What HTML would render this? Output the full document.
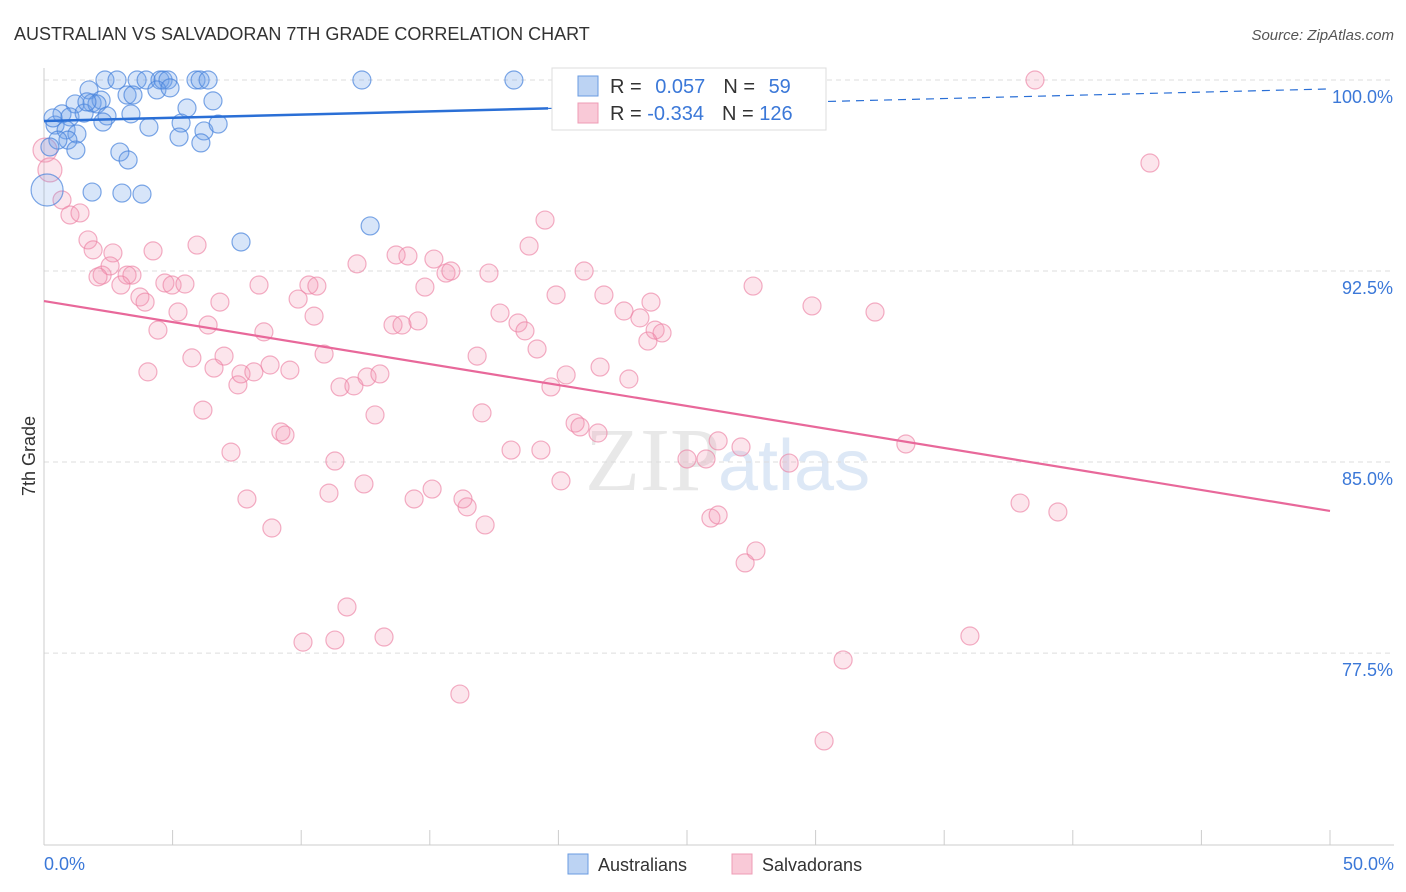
<!DOCTYPE html>
<html><head><meta charset="utf-8"><style>
body{margin:0;background:#fff;font-family:"Liberation Sans",sans-serif;}
svg{display:block}
</style></head><body>
<svg width="1406" height="892" id="chart" xmlns="http://www.w3.org/2000/svg">
<text x="14" y="40" font-size="18" fill="#333">AUSTRALIAN VS SALVADORAN 7TH GRADE CORRELATION CHART</text>
<text x="1394" y="40" font-size="15" fill="#555" font-style="italic" text-anchor="end">Source: ZipAtlas.com</text>
<text x="720" y="490" font-size="90" fill="#e8e8e8" text-anchor="end" font-family="Liberation Serif">ZIP</text>
<text x="718" y="490" font-size="72" fill="#dde8f6">atlas</text>
<g id="grid"></g>
<line x1="44" y1="68" x2="44" y2="845" stroke="#ccc"/>
<line x1="44" y1="845" x2="1394" y2="845" stroke="#ccc"/>
<g id="ticks"></g>
<text x="35" y="456" font-size="18" fill="#333" transform="rotate(-90 35 456)" text-anchor="middle">7th Grade</text>
<text x="44" y="870" font-size="18" fill="#3b78d8">0.0%</text>
<text x="1394" y="870" font-size="18" fill="#3b78d8" text-anchor="end">50.0%</text>
<g id="pts"></g>
<g id="lines"></g>
<g>
<rect x="552" y="68" width="274" height="62" fill="#fff" stroke="#ddd"/>
<rect x="578" y="76" width="20" height="20" fill="#bcd3f3" stroke="#6a9be0"/>
<rect x="578" y="103" width="20" height="20" fill="#f9c9d7" stroke="#ee9cb5"/>
<text x="610" y="93" font-size="20" fill="#333">R = <tspan fill="#3b78d8" dx="8">0.057</tspan><tspan dx="18">N = </tspan><tspan fill="#3b78d8" dx="8">59</tspan></text>
<text x="610" y="120" font-size="20" fill="#333">R = <tspan fill="#3b78d8">-0.334</tspan><tspan dx="18">N = </tspan><tspan fill="#3b78d8">126</tspan></text>
</g>
<rect x="568" y="854" width="20" height="20" fill="#bcd3f3" stroke="#6a9be0"/>
<text x="598" y="871" font-size="18" fill="#333">Australians</text>
<rect x="732" y="854" width="20" height="20" fill="#f9c9d7" stroke="#ee9cb5"/>
<text x="762" y="871" font-size="18" fill="#333">Salvadorans</text>
</svg>
<script>
const yTicks=[100,92.5,85,77.5];
const yTickLabels=["100.0%","92.5%","85.0%","77.5%"];
const xTicks=[0,5,10,15,20,25,30,35,40,45,50];
const auX=[2.37,2.84,3.62,3.97,4.51,4.63,4.82,5.91,6.07,6.38,12.36,18.27,1.75,3.23,4.39,4.90,1.21,1.87,2.22,3.46,6.57,5.56,0.70,1.01,1.56,2.06,2.45,3.38,0.43,0.86,1.28,0.93,0.54,2.29,4.08,5.33,6.22,6.77,5.25,6.10,2.95,1.24,0.23,3.27,1.87,3.03,3.81,7.66,12.68,0.12,0.35,1.67];
const auY=[100,100,100,100,100,100,100,100,100,100,100,100,99.61,99.41,99.61,99.69,99.06,99.10,99.21,99.41,99.18,98.90,98.67,98.55,98.70,99.06,98.59,98.67,98.23,98.04,97.88,97.64,97.64,98.35,98.15,98.31,98.00,98.27,97.76,97.53,97.17,97.25,97.37,96.86,95.60,95.56,95.52,93.64,94.27,95.68,98.51,99.14];
const svX=[38.53,43.00,0.04,0.23,0.70,1.01,1.40,1.71,1.91,2.68,4.24,5.95,2.26,2.57,3.23,3.42,2.10,2.99,3.73,3.93,4.70,4.98,5.48,5.21,4.43,6.84,6.38,8.36,9.88,10.30,10.61,8.55,4.04,5.75,7.00,6.61,7.54,7.66,8.16,8.79,9.56,6.18,7.27,7.89,8.86,9.21,9.37,10.50,10.89,11.31,11.08,11.51,12.05,12.56,13.06,12.17,12.44,12.87,13.57,13.92,14.54,13.69,14.15,14.81,15.16,15.63,15.82,17.30,16.84,17.73,18.43,18.70,19.17,18.86,19.48,21.00,19.91,21.77,22.55,23.17,23.60,23.76,24.03,23.48,19.71,20.30,21.62,22.74,20.65,20.84,21.54,18.16,19.32,17.03,16.45,17.15,16.29,15.09,14.39,20.10,11.31,11.78,13.22,10.07,16.17,25.00,25.74,26.21,27.10,25.93,26.21,27.26,27.68,28.97,27.57,29.86,32.31,33.51,37.95,39.42,36.00,31.07,30.33];
const svY=[100,96.74,97.25,96.47,95.29,94.70,94.78,93.72,93.33,93.21,93.29,93.52,92.34,92.70,92.34,92.34,92.27,91.95,91.48,91.28,92.03,91.95,91.99,90.89,90.18,91.28,90.38,91.95,91.40,91.95,91.91,90.11,88.54,89.09,89.16,88.69,88.03,88.46,88.54,88.81,88.61,87.04,85.39,83.55,82.41,86.18,86.06,90.73,89.24,85.04,83.78,87.95,87.99,88.34,88.46,92.78,84.14,86.85,90.38,90.38,90.54,93.13,93.09,91.87,92.97,92.42,92.50,92.42,89.16,90.85,90.46,90.15,89.44,93.48,94.50,92.50,91.56,91.56,90.93,90.66,91.28,90.18,90.07,89.75,87.95,88.42,88.73,88.26,86.53,86.38,86.14,85.47,85.47,86.93,83.24,82.53,83.55,83.94,83.55,84.26,78.01,79.31,78.13,77.93,75.89,85.12,85.12,85.83,85.59,82.80,82.92,81.04,81.51,84.96,91.91,91.13,90.89,85.71,83.39,83.04,78.17,77.23,74.05];
const auTrend=[98.39,99.65];
const svTrend=[91.32,83.08];
const NS="http://www.w3.org/2000/svg";
const sx=v=>44+v*25.72;
const sy=v=>80+(100-v)*25.47;
function mk(tag,attrs,parent){const e=document.createElementNS(NS,tag);for(const k in attrs)e.setAttribute(k,attrs[k]);document.getElementById(parent).appendChild(e);return e;}
yTicks.forEach((t,i)=>{
 const g=mk('line',{x1:44,x2:1394,y1:sy(t),y2:sy(t),stroke:'#ddd','stroke-dasharray':'5,4'},'grid');
 
 
 const tx=mk('text',{x:1393,y:sy(t)+23,'font-size':18,fill:'#3b78d8','text-anchor':'end'},'grid');
 tx.textContent=yTickLabels[i];
 
 
});
xTicks.forEach(t=>{
 const l=mk('line',{x1:sx(t),x2:sx(t),y1:830,y2:845,stroke:'#ccc'},'ticks');
 
 
});
svX.forEach((x,i)=>{
 const r=(i===2||i===3)?12:9;
 const c=mk('circle',{cx:sx(x),cy:sy(svY[i]),r:r,fill:'rgba(244,150,180,0.25)',stroke:'rgba(236,130,165,0.65)','stroke-width':1.2},'pts');
 
 
});
auX.forEach((x,i)=>{
 const r=i===49?16:9;
 const c=mk('circle',{cx:sx(x),cy:sy(auY[i]),r:r,fill:i===49?'rgba(110,160,235,0.2)':'rgba(110,160,235,0.28)',stroke:'rgba(70,130,220,0.7)','stroke-width':1.2},'pts');
 
 
});
const split=19.6;
const aMid=auTrend[0]+(auTrend[1]-auTrend[0])*split/50;
const l1=mk('line',{x1:sx(0),y1:sy(auTrend[0]),x2:sx(split),y2:sy(aMid),stroke:'#2a6fd6','stroke-width':2.5},'lines');


const l2=mk('line',{x1:sx(split),y1:sy(aMid),x2:sx(50),y2:sy(auTrend[1]),stroke:'#2a6fd6','stroke-width':1.2,'stroke-dasharray':'8,6'},'lines');


const l3=mk('line',{x1:sx(0),y1:sy(svTrend[0]),x2:sx(50),y2:sy(svTrend[1]),stroke:'#e8689a','stroke-width':2.2},'lines');


</script>
</body></html>
